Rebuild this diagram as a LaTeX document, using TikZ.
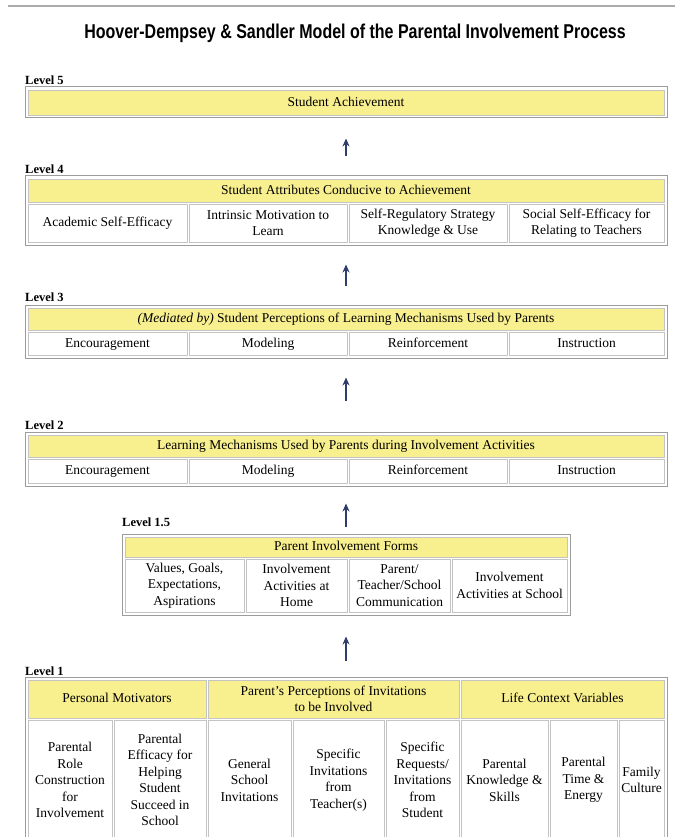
\documentclass[tikz,border=0pt]{standalone}
\usepackage{fontspec}
\setmainfont{Liberation Serif}
\newfontfamily\titlefont[FakeStretch=0.8]{Liberation Sans}
\usetikzlibrary{arrows.meta}
\definecolor{hdr}{HTML}{F8EF8E}
\definecolor{cellline}{HTML}{C4C4C4}
\definecolor{outline}{HTML}{9C9C9C}
\definecolor{arrowblue}{HTML}{2F3C6C}
\newcommand\cellfont{\fontsize{13.5}{16.5}\selectfont}
\newcommand\boxat[7]{%
  \pgfmathsetmacro\bxW{#4-#2}%
  \pgfmathsetmacro\bxH{#5-#3}%
  \pgfmathsetmacro\bxX{(#2+#4)/2}%
  \pgfmathsetmacro\bxY{(#3+#5)/2}%
  \node[#6, minimum width=\bxW pt, minimum height=\bxH pt] (#1) at (\bxX,\bxY) {#7};}
\tikzset{
  outerbox/.style={draw=outline, line width=1pt, inner sep=0pt},
  hdrbox/.style={draw=cellline, fill=hdr, line width=0.8pt, inner sep=0pt, align=center, font=\cellfont},
  cellbox/.style={draw=cellline, fill=white, line width=0.8pt, inner sep=0pt, align=center, font=\cellfont},
  one/.style={text height=10pt, text depth=2.5pt},
  lvl/.style={anchor=base west, inner sep=0pt, font=\bfseries\fontsize{12.5}{14}\selectfont},
  arr/.style={draw=arrowblue, line width=1.4pt, -{Stealth[length=8pt,width=7pt]}}
}
\begin{document}
\begin{tikzpicture}[x=1pt,y=-1pt]
\useasboundingbox (0,0) rectangle (675,837);
\clip (0,0) rectangle (675,837);
\fill[white] (0,0) rectangle (675,837);
\draw[gray!65, line width=2pt] (8,6) -- (675,6);
\node[anchor=base, inner sep=0pt, font=\titlefont\bfseries\fontsize{20}{22}\selectfont] (title) at (355,38.5) {Hoover-Dempsey \& Sandler Model of the Parental Involvement Process};

% Level 5
\node[lvl] (lab5) at (25,85) {Level 5};
\boxat{t5}{25}{87}{667}{118}{outerbox}{}
\boxat{t5h}{28}{90}{664}{115}{hdrbox,one}{Student Achievement}

% Level 4
\node[lvl] (lab4) at (25,174) {Level 4};
\boxat{t4}{25}{176}{667}{245}{outerbox}{}
\boxat{t4h}{28}{179}{664}{202}{hdrbox,one}{Student Attributes Conducive to Achievement}
\boxat{t4a}{28}{204}{187}{242}{cellbox,one}{Academic Self-Efficacy}
\boxat{t4b}{189}{204}{347}{242}{cellbox}{Intrinsic Motivation to\\Learn}
\boxat{t4c}{349}{204}{507}{242}{cellbox}{Self-Regulatory Strategy\\Knowledge \& Use}
\boxat{t4d}{509}{204}{664}{242}{cellbox}{Social Self-Efficacy for\\Relating to Teachers}

% Level 3
\node[lvl] (lab3) at (25,301) {Level 3};
\boxat{t3}{25}{305}{667}{358}{outerbox}{}
\boxat{t3h}{28}{308}{664}{330}{hdrbox,one}{\textit{(Mediated by)} Student Perceptions of Learning Mechanisms Used by Parents}
\boxat{t3a}{28}{332}{187}{355}{cellbox,one}{Encouragement}
\boxat{t3b}{189}{332}{347}{355}{cellbox,one}{Modeling}
\boxat{t3c}{349}{332}{507}{355}{cellbox,one}{Reinforcement}
\boxat{t3d}{509}{332}{664}{355}{cellbox,one}{Instruction}

% Level 2
\node[lvl] (lab2) at (25,429) {Level 2};
\boxat{t2}{25}{432}{667}{486}{outerbox}{}
\boxat{t2h}{28}{435}{664}{457}{hdrbox,one}{Learning Mechanisms Used by Parents during Involvement Activities}
\boxat{t2a}{28}{459}{187}{483}{cellbox,one}{Encouragement}
\boxat{t2b}{189}{459}{347}{483}{cellbox,one}{Modeling}
\boxat{t2c}{349}{459}{507}{483}{cellbox,one}{Reinforcement}
\boxat{t2d}{509}{459}{664}{483}{cellbox,one}{Instruction}

% Level 1.5
\node[lvl] (lab15) at (122,526) {Level 1.5};
\boxat{t15}{122}{534}{570}{615}{outerbox}{}
\boxat{t15h}{125}{537}{567}{557}{hdrbox,one}{Parent Involvement Forms}
\boxat{t15a}{125}{559}{244}{612}{cellbox}{Values, Goals,\\Expectations,\\Aspirations}
\boxat{t15b}{246}{559}{347}{612}{cellbox}{Involvement\\Activities at\\Home}
\boxat{t15c}{349}{559}{450}{612}{cellbox}{Parent/\\Teacher/School\\Communication}
\boxat{t15d}{452}{559}{567}{612}{cellbox}{Involvement\\Activities at School}

% Level 1
\node[lvl] (lab1) at (25,675) {Level 1};
\boxat{t1}{25}{677}{667}{842}{outerbox}{}
\boxat{t1h1}{28}{680}{206}{718}{hdrbox,one}{Personal Motivators}
\boxat{t1h2}{208}{680}{459}{718}{hdrbox}{Parent’s Perceptions of Invitations\\to be Involved}
\boxat{t1h3}{461}{680}{664}{718}{hdrbox,one}{Life Context Variables}
\boxat{t1a}{28}{720}{112}{840}{cellbox}{Parental\\Role\\Construction\\for\\Involvement}
\boxat{t1b}{114}{720}{206}{840}{cellbox}{Parental\\Efficacy for\\Helping\\Student\\Succeed in\\School}
\boxat{t1c}{208}{720}{291}{840}{cellbox}{General\\School\\Invitations}
\boxat{t1d}{293}{720}{384}{840}{cellbox}{Specific\\Invitations\\from\\Teacher(s)}
\boxat{t1e}{386}{720}{459}{840}{cellbox}{Specific\\Requests/\\Invitations\\from\\Student}
\boxat{t1f}{461}{720}{548}{840}{cellbox}{Parental\\Knowledge \&\\Skills}
\boxat{t1g}{550}{720}{617}{840}{cellbox}{Parental\\Time \&\\Energy}
\boxat{t1h}{619}{720}{664}{840}{cellbox}{Family\\Culture}

% arrows
\draw[arr, shorten <=19pt, shorten >=20pt] (t4.north) -- (t5.south);
\draw[arr, shorten <=19pt, shorten >=19pt] (t3.north) -- (t4.south);
\draw[arr, shorten <=31pt, shorten >=19pt] (t2.north) -- (t3.south);
\draw[arr, shorten <=7pt, shorten >=17pt] (t15.north) -- (t2.south);
\draw[arr, shorten <=16pt, shorten >=21pt] (t1.north) -- (t15.south);
\end{tikzpicture}
\end{document}
